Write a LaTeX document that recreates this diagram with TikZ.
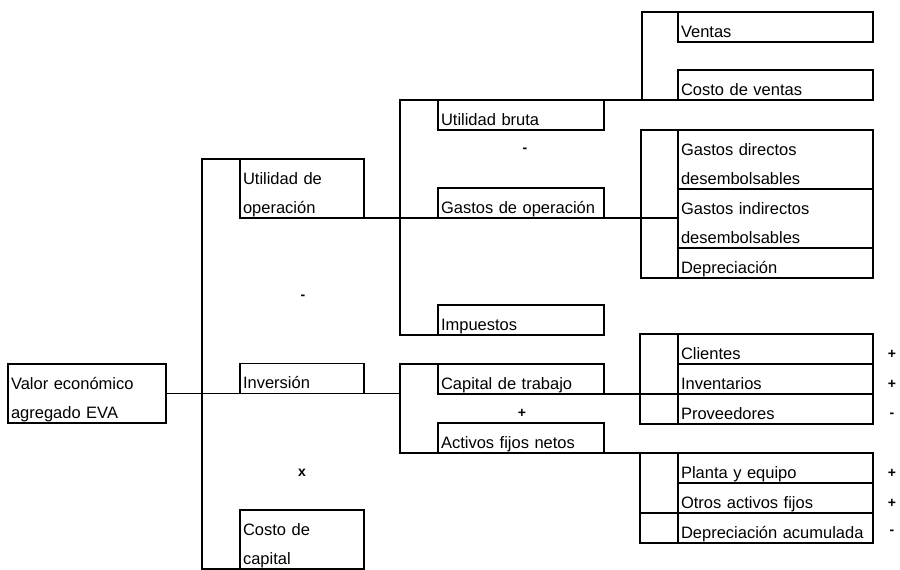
\documentclass[tikz,border=0pt]{standalone}
\usepackage{fontspec}
\setmainfont{Liberation Sans}

\begin{document}
\begin{tikzpicture}[x=1pt,y=-1pt,line width=1.1pt,
  box/.style={draw,anchor=south west,outer sep=0pt,inner xsep=3pt,inner ysep=0pt,
    align=left,text height=25pt,text depth=5pt,font=\fontsize{16.5}{29}\selectfont},
  box2/.style={box,text depth=34pt},
  sign/.style={inner sep=0pt,font=\fontsize{14}{16}\selectfont\bfseries}]
\useasboundingbox (0,0) rectangle (900,570);
\node[box2,text width=152pt] (eva) at (8,423) {Valor económico\\agregado EVA};
\node[box2,text width=118pt] (uop) at (240,218) {Utilidad de\\operación};
\node[box,text width=118pt] (inv) at (240,393.5) {Inversión};
\node[box2,text width=118pt] (cc) at (240,569) {Costo de\\capital};
\foreach \n/\y/\t in {ub/130/Utilidad bruta,gop/218/Gastos de operación,imp/335/Impuestos,
  ct/394/Capital de trabajo,afn/453/Activos fijos netos}
  \node[box,text width=160pt] (\n) at (438,\y) {\t};
\foreach \n/\y/\d/\t in {ven/42/5pt/Ventas,cv/100/5pt/Costo de ventas,
  gd/189/34pt/{Gastos directos\\desembolsables},gi/248/34pt/{Gastos indirectos\\desembolsables},
  dep/278/5pt/Depreciación,cli/364/5pt/Clientes,inven/394/5pt/Inventarios,prov/424/5pt/Proveedores,
  pye/483/5pt/Planta y equipo,oaf/513/5pt/Otros activos fijos,da/543/5pt/Depreciación acumulada}
  \node[box,text depth=\d,text width=189pt] (\n) at (678,\y) {\t};
\coordinate (j1) at (202,393.5);
\coordinate (j2) at (400,218);
\coordinate (j3) at (400,393.5);
\coordinate (k1) at (642,70);
\coordinate (k2) at (641,218);
\coordinate (k3) at (640,379);
\coordinate (k4) at (640,498);
\draw (uop.north west) -| (j1) |- (cc.south west);
\draw (eva.east) -- (j3);
\draw (ub.north west) -| (j2) |- (imp.south west);
\draw (ct.north west) -| (j3) |- (afn.south west);
\draw (uop.south west) -- (gop.south east -| gi.west);
\draw (ub.north east) -- (cv.south west);
\draw (ven.north west) -| (k1) |- (cv.south west);
\draw (gd.north west) -| (k2) |- (dep.south west);
\draw (ct.south east) -- (inven.south west);
\draw (cli.north west) -| (k3) |- (prov.south west);
\draw (afn.south east) -- (pye.north west);
\draw (pye.north west) -| (k4) |- (da.south west);
\draw (da.north west) -- (da.north west -| k4);
\foreach \n/\x/\y/\s in {m1/303/297/-,m2/302/473/x,m3/525/150/-,m4/522/413/+,
  c1/892/354/+,c2/892/384/+,c3/892/415/-,c4/892/473/+,c5/892/503/+,c6/892/532/-}
  \node[sign] (\n) at (\x,\y) {\s};
\end{tikzpicture}
\end{document}
